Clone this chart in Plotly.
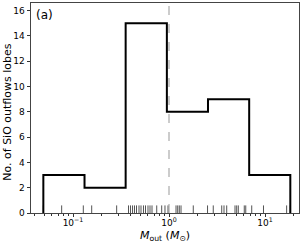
import plotly.graph_objects as go

# Histogram (step outline) of outflow masses, log-spaced bins
bin_edges = [0.0491, 0.1318, 0.3535, 0.950, 2.547, 6.84, 18.35]
counts = [3, 2, 15, 8, 9, 3]

# Individual masses shown as a rug along the bottom
rug_values = [0.0491, 0.0762, 0.128, 0.1566, 0.285,
              0.3786, 0.397, 0.417, 0.437, 0.4586, 0.487, 0.511, 0.542,
              0.569, 0.604, 0.634, 0.665, 0.745, 0.839, 0.908,
              0.976, 1.183, 1.232, 1.28, 1.334, 1.79, 2.52,
              2.89, 3.54, 3.74, 3.99, 4.87, 5.07, 5.27, 6.08, 6.30,
              7.27, 9.64, 16.8, 18.35]
rug_height = 0.6

ref_mass = 1.0

y_ticks = [0, 2, 4, 6, 8, 10, 12, 14, 16]
x_ticks = [0.1, 1, 10]
x_ticktext = ["10<sup>−1</sup>", "10<sup>0</sup>", "10<sup>1</sup>"]

FONT = "DejaVu Sans"

fig = go.Figure()

# rug
rx, ry = [], []
for v in rug_values:
    rx += [v, v, None]
    ry += [0, rug_height, None]
fig.add_trace(go.Scatter(x=rx, y=ry, mode="lines",
                         line=dict(color="rgba(0,0,0,0.85)", width=0.8),
                         hoverinfo="skip", showlegend=False))

# step histogram
sx = [bin_edges[0]] + bin_edges
sy = [0] + counts + [0]
fig.add_trace(go.Scatter(x=sx, y=sy, mode="lines", line_shape="hv",
                         line=dict(color="black", width=2),
                         showlegend=False, cliponaxis=False))

fig.add_vline(x=ref_mass, line=dict(color="#999999", width=1, dash="dash"))

fig.add_annotation(text="(a)", xref="paper", yref="paper", x=0.012, y=0.985,
                   xanchor="left", yanchor="top", showarrow=False,
                   font=dict(family=FONT, size=12, color="black"))

# axis titles as annotations for precise placement
fig.add_annotation(text="<i>M</i><sub>out</sub> (<i>M</i><sub>⊙</sub>)",
                   xref="paper", yref="paper", x=0.5, y=-0.066,
                   xanchor="center", yanchor="top", showarrow=False,
                   font=dict(family=FONT, size=11, color="black"))
fig.add_annotation(text="No. of SiO outflows lobes", textangle=-90,
                   xref="paper", yref="paper", x=-0.086, y=0.482,
                   xanchor="center", yanchor="middle", showarrow=False,
                   font=dict(family=FONT, size=11, color="black"))

fig.update_layout(
    width=307, height=243,
    margin=dict(l=31, r=8, t=3, b=30),
    plot_bgcolor="white", paper_bgcolor="white",
    font=dict(family=FONT, size=10, color="black"),
    xaxis=dict(type="log", range=[-1.4375, 1.354], automargin=False,
               tickvals=x_ticks, ticktext=x_ticktext,
               ticks="outside", ticklen=3, tickwidth=0.8, tickcolor="#333",
               ticklabelstandoff=-2,
               minor=dict(ticks="outside", ticklen=2, tickwidth=0.6, tickcolor="#333", dtick="D1"),
               showline=True, linecolor="#444", linewidth=1, mirror=True,
               showgrid=False, zeroline=False,
               tickfont=dict(family=FONT, size=9)),
    yaxis=dict(range=[0, 16.6], tickvals=y_ticks, automargin=False,
               ticks="outside", ticklen=3.5, tickwidth=0.8, tickcolor="#333",
               showline=True, linecolor="#444", linewidth=1, mirror=True,
               showgrid=False, zeroline=False,
               tickfont=dict(family=FONT, size=9)),
)

fig.write_html("out.html", config={"displayModeBar": False},
               post_script="document.body.style.margin='0';document.body.style.overflow='hidden';")
